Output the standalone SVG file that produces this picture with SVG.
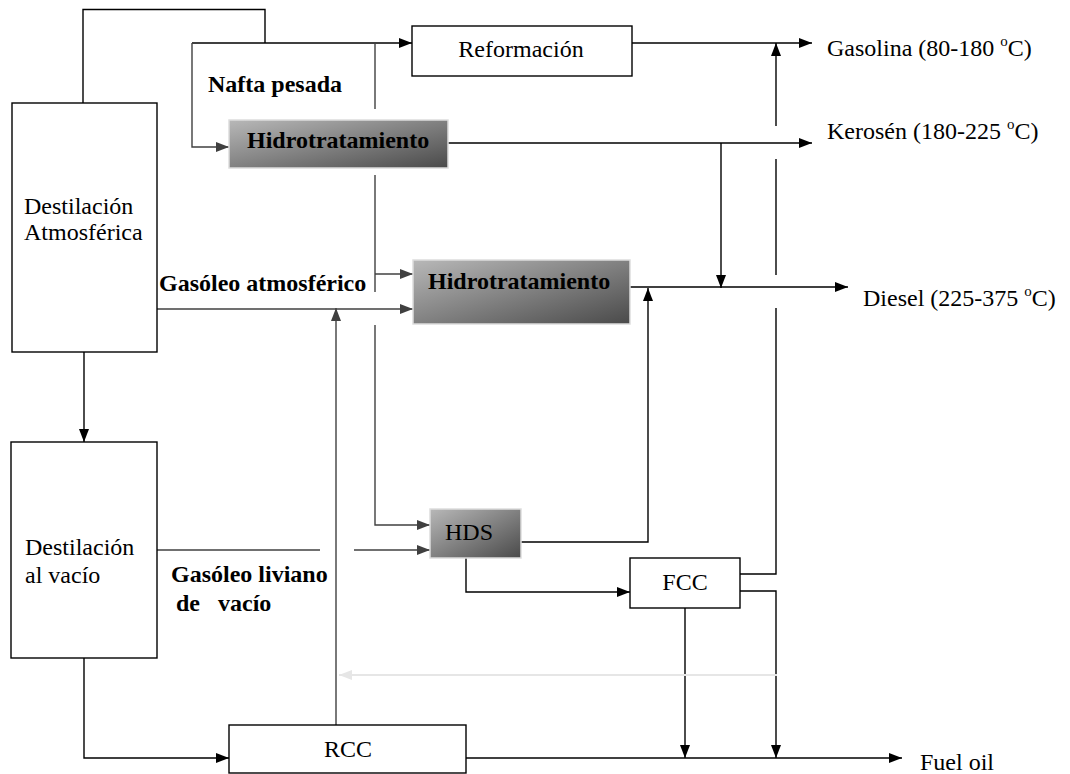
<svg xmlns="http://www.w3.org/2000/svg" width="1070" height="774" viewBox="0 0 1070 774">
<defs>
<style>
.box{fill:#fff;stroke:#000;stroke-width:1.4}
.gbox{fill:url(#g);stroke:#ddd;stroke-width:1.5}
.t{font-family:'Liberation Serif',Tinos,'Times New Roman',Times,'DejaVu Serif',serif;font-size:24px;fill:#000}
.b{font-family:'Liberation Serif',Tinos,'Times New Roman',Times,'DejaVu Serif',serif;font-size:24px;font-weight:bold;fill:#000}
.c{fill:none;stroke:#000;stroke-width:1.4}
.d{fill:none;stroke:#404040;stroke-width:1.4}
.a{marker-end:url(#ar)}
.ad{marker-end:url(#ard)}
.l{fill:none;stroke:#e6e6e6;stroke-width:2;marker-end:url(#arl)}
</style>
<linearGradient id="g" x1="0" y1="0" x2="1" y2="1">
<stop offset="0" stop-color="#b8b8b8"/>
<stop offset="1" stop-color="#4a4a4a"/>
</linearGradient>
<marker id="ar" markerUnits="userSpaceOnUse" markerWidth="14" markerHeight="12" refX="13" refY="5" orient="auto" viewBox="0 0 14 10">
<path d="M0,0 L13,5 L0,10 z" fill="#000"/>
</marker>
<marker id="ard" markerUnits="userSpaceOnUse" markerWidth="14" markerHeight="12" refX="13" refY="5" orient="auto" viewBox="0 0 14 10">
<path d="M0,0 L13,5 L0,10 z" fill="#404040"/>
</marker>
<marker id="arl" markerUnits="userSpaceOnUse" markerWidth="14" markerHeight="12" refX="13" refY="5" orient="auto" viewBox="0 0 14 10">
<path d="M0,0 L13,5 L0,10 z" fill="#e6e6e6"/>
</marker>
</defs>

<g id="connectors">
<path class="c" d="M83,103 V9.5 H265 V43"/>
<path class="c a" d="M192,43 H412"/>
<path class="d ad" d="M192,43 V147 H229"/>
<path class="d" d="M375,43 V109"/>
<path class="d" d="M375,175 V292"/>
<path class="d ad" d="M375,274 H413"/>
<path class="d ad" d="M157,309 H413"/>
<path class="d ad" d="M336,725 V308"/>
<path class="d ad" d="M375,325 V525 H430"/>
<path class="d" d="M157,550 H320"/>
<path class="d ad" d="M354,550 H430"/>
<path class="c a" d="M632,43 H812"/>
<path class="c" d="M740,574 H776 V308"/>
<path class="c" d="M776,275 V159"/>
<path class="c a" d="M776,126 V43"/>
<path class="c a" d="M448,143 H812"/>
<path class="c a" d="M721,143 V288"/>
<path class="c a" d="M630,287 H848"/>
<path class="c a" d="M521,542 H648 V288"/>
<path class="c a" d="M466,558 V592 H630"/>
<path class="c a" d="M740,591 H776 V758"/>
<path class="c a" d="M685,608 V758"/>
<path class="c a" d="M466,758 H902"/>
<path class="c a" d="M84,352 V442"/>
<path class="c a" d="M84,658 V758 H229"/>
<path class="l" d="M777,675 H339"/>
</g>

<g id="dest-atm">
<rect class="box" x="12" y="103" width="145" height="249"/>
<text class="t" x="24" y="214">Destilación</text>
<text class="t" x="24" y="240">Atmosférica</text>
</g>
<g id="dest-vacio">
<rect class="box" x="11" y="442" width="146" height="216"/>
<text class="t" x="25" y="555">Destilación</text>
<text class="t" x="25" y="583">al vacío</text>
</g>
<g id="reformacion">
<rect class="box" x="412" y="26" width="220" height="50"/>
<text class="t" x="521" y="57" text-anchor="middle">Reformación</text>
</g>
<g id="hidro1">
<rect class="gbox" x="229" y="120" width="219" height="48"/>
<text class="b" x="247" y="148">Hidrotratamiento</text>
</g>
<g id="hidro2">
<rect class="gbox" x="413" y="260" width="217" height="64"/>
<text class="b" x="428" y="289">Hidrotratamiento</text>
</g>
<g id="hds">
<rect class="gbox" x="430" y="509" width="91" height="49"/>
<text class="t" x="445" y="540">HDS</text>
</g>
<g id="fcc">
<rect class="box" x="630" y="558" width="110" height="50"/>
<text class="t" x="685" y="590" text-anchor="middle">FCC</text>
</g>
<g id="rcc">
<rect class="box" x="229" y="725" width="237" height="48"/>
<text class="t" x="348" y="757" text-anchor="middle">RCC</text>
</g>

<g id="labels">
<text class="b" x="208" y="92">Nafta pesada</text>
<text class="b" x="159" y="291">Gasóleo atmosférico</text>
<text class="b" x="171" y="582">Gasóleo liviano</text>
<text class="b" x="176" y="611" style="white-space:pre" xml:space="preserve">de   vacío</text>
<text class="t" x="827" y="56">Gasolina (80-180 <tspan font-size="15" dy="-10">o</tspan><tspan dy="10">C)</tspan></text>
<text class="t" x="827" y="139">Kerosén (180-225 <tspan font-size="15" dy="-10">o</tspan><tspan dy="10">C)</tspan></text>
<text class="t" x="863" y="306">Diesel (225-375 <tspan font-size="15" dy="-10">o</tspan><tspan dy="10">C)</tspan></text>
<text class="t" x="920" y="770">Fuel oil</text>
</g>
</svg>
